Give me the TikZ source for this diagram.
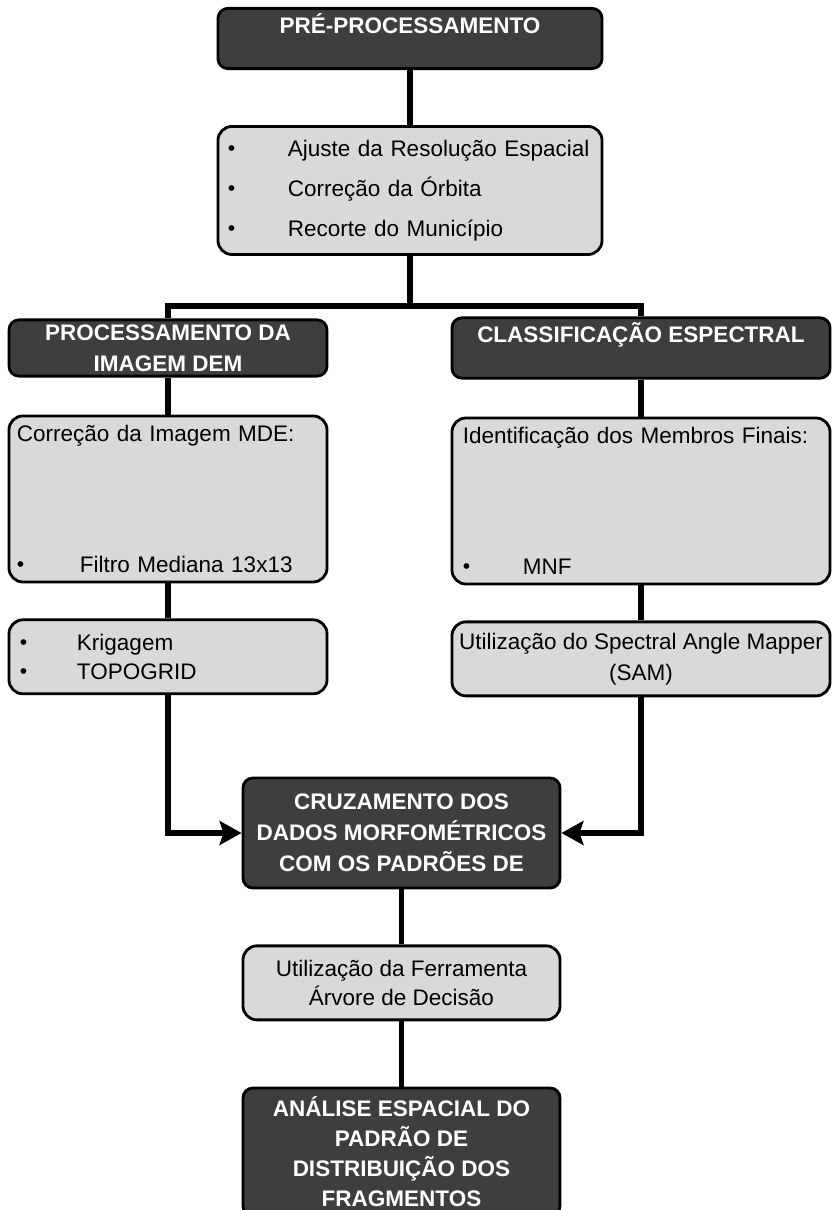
\documentclass[tikz,border=0pt]{standalone}
\usepackage{fontspec}
\setmainfont{Liberation Sans}
\usepackage{xcolor}
\usepackage{tikz}
\usetikzlibrary{arrows.meta,positioning}
\definecolor{escuro}{RGB}{62,62,62}
\definecolor{claro}{RGB}{217,217,217}
\newcommand{\marca}[1]{\makebox[#1][l]{\raisebox{0.05ex}{\fontsize{15}{15}\selectfont\textbullet}}}

\begin{document}
\begin{tikzpicture}[x=0.025cm, y=-0.025cm,
          every node/.style={draw, line width=2pt},
          dark/.style={fill=escuro, text=white, rounded corners=0.25cm, align=center,
                font=\bfseries\fontsize{16}{22}\selectfont},
          light/.style={fill=claro, rounded corners=0.35cm, align=center,
                font=\fontsize{16}{21}\selectfont},
          link/.style={line width=4pt},
          to/.style={link, -{Stealth[length=0.55cm, width=0.6cm, inset=0.1cm]}},
        ]
            \path[use as bounding box, clip] (0,0) rectangle (832,1210);

            \draw node[dark, minimum width=9.6cm, minimum height=1.325cm] (prepro) at (410,38.5)
                {PRÉ-PROCESSAMENTO\\\mbox{}};
            \draw node[light, align=left, text width=9.1cm, inner xsep=0.25cm, minimum height=3.2cm,
                font=\fontsize{16}{28.5}\selectfont, below=1.375cm of prepro] (ajustes)
                {\marca{1.5cm}Ajuste da Resolução Espacial\\ \marca{1.5cm}Correção da Órbita\\
                 \marca{1.5cm}Recorte do Município};
            \coordinate[below=1.25cm of ajustes] (fork);

            % ramo da esquerda
            \draw node[dark, minimum width=7.95cm, minimum height=1.4cm] (procdem) at (168,348)
                {PROCESSAMENTO DA\\IMAGEM DEM};
            \draw node[light, align=left, text width=7.55cm, inner xsep=0.2cm, minimum height=4.15cm,
                font=\fontsize{16}{19}\selectfont, below=0.925cm of procdem] (correcao)
                {Correção da Imagem MDE:\\[2.6cm]\marca{1.575cm}Filtro Mediana 13x13};
            \draw node[light, align=left, text width=7.4cm, inner xsep=0.275cm, minimum height=1.85cm,
                font=\fontsize{16}{20.6}\selectfont, below=0.875cm of correcao] (interp)
                {\marca{1.425cm}Krigagem\\ \marca{1.425cm}TOPOGRID};

            % ramo da direita
            \draw node[dark, minimum width=9.45cm, minimum height=1.4cm] (classif) at (641,348)
                {CLASSIFICAÇÃO ESPECTRAL\\\mbox{}};
            \draw node[light, align=left, text width=8.9cm, inner xsep=0.275cm, minimum height=4.15cm,
                font=\fontsize{16}{19}\selectfont, below=0.925cm of classif] (membros)
                {Identificação dos Membros Finais:\\[2.6cm]\marca{1.5cm}MNF};
            \draw node[light, minimum width=9.45cm, minimum height=1.85cm, inner xsep=1pt,
                font=\fontsize{16}{22}\selectfont, below=0.875cm of membros] (sam)
                {Utilização do Spectral Angle Mapper\\(SAM)};

            % cruzamento e resultado
            \draw node[dark, minimum width=7.925cm, minimum height=2.75cm] (cruzamento) at (401.5,833)
                {CRUZAMENTO DOS\\DADOS MORFOMÉTRICOS\\COM OS PADRÕES DE};
            \draw node[light, minimum width=7.925cm, minimum height=1.85cm, below=1.375cm of cruzamento]
                (arvore) {Utilização da Ferramenta\\Árvore de Decisão};
            \draw node[dark, minimum width=7.925cm, minimum height=3.2cm,
                font=\bfseries\fontsize{16}{21.3}\selectfont] (analise) at (401.5,1152)
                {ANÁLISE ESPACIAL DO\\PADRÃO DE\\DISTRIBUIÇÃO DOS\\FRAGMENTOS};

            \draw[link] (prepro) -- (ajustes);
            \draw[link] (ajustes) -- (fork);
            \draw[link] (procdem) |- (fork) -| (classif);
            \draw[link] (procdem) -- (correcao);
            \draw[link] (correcao) -- (interp);
            \draw[link] (classif) -- (membros);
            \draw[link] (membros) -- (sam);
            \draw[to] (interp) |- (cruzamento);
            \draw[to] (sam) |- (cruzamento);
            \draw[link] (cruzamento) -- (arvore);
            \draw[link] (arvore) -- (analise);
\end{tikzpicture}
\end{document}
